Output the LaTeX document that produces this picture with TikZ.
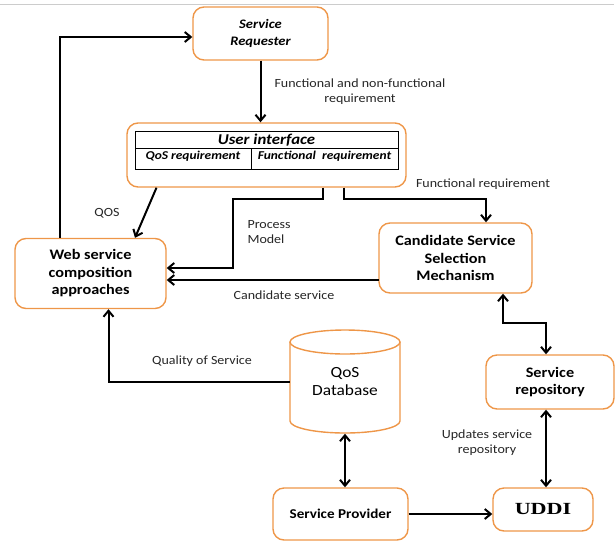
\documentclass[tikz,border=0pt]{standalone}
\usepackage{fontspec}
\setmainfont[FakeStretch=1.12]{Carlito}
\newfontfamily\uddifont[FakeStretch=1.3]{Liberation Serif}
\usepackage{tikz}
\usetikzlibrary{shapes.geometric, arrows.meta, positioning}
\definecolor{boxorange}{RGB}{238,150,72}
\tikzstyle{block} = [rectangle, rounded corners=11pt, draw=boxorange, line width=1.4pt, align=center, font=\fontsize{14.5}{17.5}\selectfont\bfseries]
\tikzstyle{arrow} = [line width=2pt, -{Straight Barb[length=6pt,width=10pt]}]
\tikzstyle{darrow} = [line width=2pt, {Straight Barb[length=6pt,width=10pt]}-{Straight Barb[length=6pt,width=10pt]}]
\tikzstyle{lbl} = [align=center, font=\fontsize{12.5}{15}\selectfont, text=black!85]
\tikzstyle{cell} = [font=\fontsize{12}{13}\selectfont\bfseries\itshape]

\begin{document}
\begin{tikzpicture}[x=1pt, y=-1pt]
    \useasboundingbox (0,0) rectangle (615,541);
    \draw [black!20, line width=0.8pt] (0,4) -- (614,4);
    % boxes
    \node (req) [block, minimum width=135, minimum height=53, font=\fontsize{13}{17}\selectfont\bfseries\itshape] at (260.5,33.5) {Service\\Requester};
    \node (ui) [block, minimum width=279, minimum height=64] at (266.5,155) {};
    \draw [line width=0.8pt] (135,131) rectangle (398,169);
    \draw [line width=0.8pt] (135,148) -- (398,148);
    \draw [line width=0.8pt] (251,148) -- (251,169);
    \node (uihead) [font=\fontsize{15}{17}\selectfont\bfseries\itshape] at (266.5,140) {User interface};
    \node (qosreq) [cell] at (193,156.5) {QoS requirement};
    \node (funreq) [cell] at (324.5,156.5) {Functional\ \ requirement};
    \node (web) [block, minimum width=151, minimum height=70] at (90.5,273.5) {Web service\\composition\\approaches};
    \node (cand) [block, minimum width=153, minimum height=70] at (455.5,258) {Candidate Service\\Selection\\Mechanism};
    \node (repo) [block, minimum width=128, minimum height=54] at (550,382) {Service\\repository};
    \node (uddi) [block, minimum width=100, minimum height=43, font=\fontsize{17}{19}\selectfont\uddifont\bfseries] at (543,509.5) {UDDI};
    \node (prov) [block, minimum width=135, minimum height=52, font=\fontsize{13.5}{16}\selectfont\bfseries] at (340.5,514) {Service Provider};
    % database
    \node (db) [minimum width=110, minimum height=103, align=center, font=\fontsize{15.5}{18}\selectfont] at (345,382) {QoS\\Database};
    \draw [boxorange, line width=1.4pt] (290,342) -- (290,421)
        arc [start angle=180, end angle=0, x radius=55, y radius=12] -- (400,342);
    \draw [boxorange, line width=1.4pt] (345,342) ellipse [x radius=55, y radius=12];
    % labels
    \node (l1) [lbl] at (360,92) {Functional and non-functional\\requirement};
    \node (l2) [lbl] at (107,213) {QOS};
    \node (l3) [lbl, align=left, anchor=west] at (244,232) {Process\\Model};
    \node (l4) [lbl] at (483,184) {Functional requirement};
    \node (l5) [lbl] at (284,295) {Candidate service};
    \node (l6) [lbl] at (202,361) {Quality of Service};
    \node (l7) [lbl] at (487,443) {Updates service\\repository};
    % connectors
    \coordinate (pm) at (233,199);
    \coordinate (fr) at (486,199);
    \coordinate (cs) at (379,280);
    \coordinate (cr) at (503,323);
    \draw [arrow] (req.south) -- (req.south |- ui.north);
    \draw [arrow] ([xshift=-30.5]web.north) |- ([yshift=-3.5]req.west);
    \draw [arrow] ([xshift=-110]ui.south) -- ([xshift=44.5]web.north);
    \draw [arrow] ([xshift=56]ui.south) |- (pm) |- ([yshift=5.5]web.east);
    \draw [arrow] ([xshift=77]ui.south) |- (fr) -- (fr |- cand.north);
    \draw [arrow] (cs) -- (cs -| web.east);
    \draw [darrow] (cr |- cand.south) -- (cr) -| ([xshift=-4]repo.north);
    \draw [darrow] ([xshift=-4]repo.south) -- ([xshift=-4]repo.south |- uddi.north);
    \draw [darrow] (db.south) -- (db.south |- prov.north);
    \draw [arrow] (prov.east) -- (prov.east -| uddi.west);
    \draw [arrow] (db.west) -| ([xshift=18]web.south);
\end{tikzpicture}
\end{document}
